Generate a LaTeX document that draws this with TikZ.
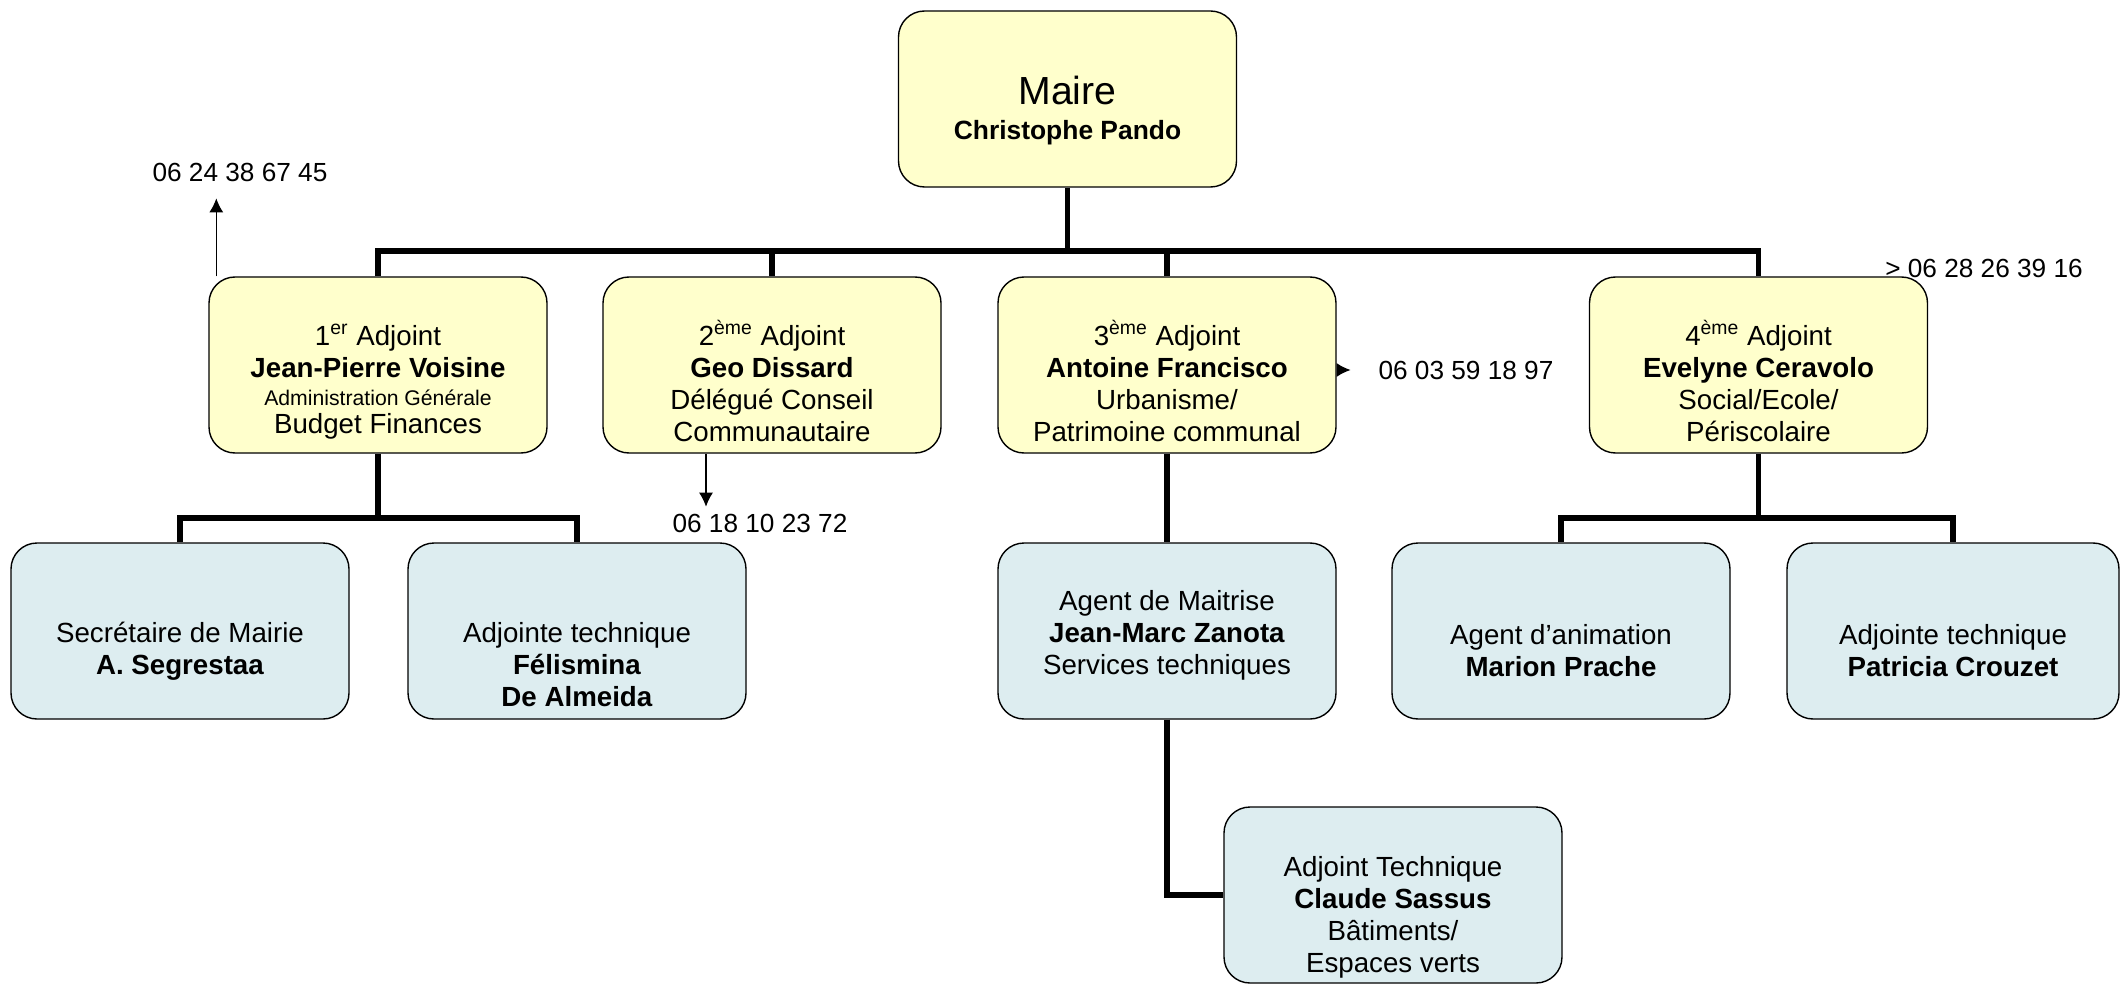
\documentclass[tikz,border=0pt]{standalone}
\usepackage{fontspec}
\setmainfont{Liberation Sans}
\usepackage{tikz}
\usetikzlibrary{arrows.meta}
\definecolor{paleyellow}{RGB}{255,255,204}
\definecolor{paleblue}{RGB}{221,237,240}
\newcommand{\lift}[1]{\rule{0pt}{#1}}

\begin{document}
\begin{tikzpicture}[x=0.5pt, y=-0.5pt, every node/.style={font=\fontsize{13.85}{16}\selectfont}]
\tikzset{box/.style = {shape=rectangle, draw, line width=0.7pt, rounded corners=13pt, minimum width=169pt, minimum height=88pt, inner sep=0pt, align=center}}
\tikzset{elu/.style = {box, fill=paleyellow}}
\tikzset{agent/.style = {box, fill=paleblue}}
\tikzset{link/.style = {line width=2.6pt}}
\tikzset{call/.style = {-{Latex[length=7pt,width=7pt]}, line width=0.6pt}}
\tikzset{tel/.style = {font=\fontsize{13.1}{16}\selectfont}}
\useasboundingbox (0,0) rectangle (2120,984);

% vertices
\node[elu] (maire) at (1067.5,99) {{\lift{26pt}\fontsize{19.6}{22}\selectfont Maire}\\[1.5pt] {\fontsize{13.2}{16}\selectfont\bfseries Christophe Pando}};
\node[elu] (b1) at (378,365) {{\lift{27pt}1\textsuperscript{er} Adjoint}\\ \textbf{Jean-Pierre Voisine}\\[-2pt] {\fontsize{10.6}{12}\selectfont Administration Générale}\\[-2pt] Budget Finances};
\node[elu] (b2) at (772,365) {{\lift{28.5pt}2\textsuperscript{ème} Adjoint}\\ \textbf{Geo Dissard}\\ Délégué Conseil\\ Communautaire};
\node[elu] (b3) at (1167,365) {{\lift{28.5pt}3\textsuperscript{ème} Adjoint}\\ \textbf{Antoine Francisco}\\ Urbanisme/\\ Patrimoine communal};
\node[elu] (b4) at (1758.5,365) {{\lift{28.5pt}4\textsuperscript{ème} Adjoint}\\ \textbf{Evelyne Ceravolo}\\ Social/Ecole/\\ Périscolaire};
\node[agent] (c1) at (180,631) {{\lift{30pt}Secrétaire de Mairie}\\ \textbf{A. Segrestaa}};
\node[agent] (c2) at (577,631) {{\lift{44pt}Adjointe technique}\\ \textbf{Félismina}\\ \textbf{De Almeida}};
\node[agent] (c3) at (1167,631) {{\lift{14pt}Agent de Maitrise}\\ \textbf{Jean-Marc Zanota}\\ Services techniques};
\node[agent] (c4) at (1561,631) {{\lift{30pt}Agent d’animation}\\ \textbf{Marion Prache}};
\node[agent, minimum width=166pt] (c5) at (1953,631) {{\lift{30pt}Adjointe technique}\\ \textbf{Patricia Crouzet}};
\node[agent] (c6) at (1393,895) {{\lift{32pt}Adjoint Technique}\\ \textbf{Claude Sassus}\\ Bâtiments/\\ Espaces verts};

% phone numbers
\node[tel] (t1) at (240,172) {06 24 38 67 45};
\node[tel] (t2) at (760,523) {06 18 10 23 72};
\node[tel] (t3) at (1466,370) {06 03 59 18 97};
\node[tel] (t4) at (1984,268) {> 06 28 26 39 16};

% junctions
\coordinate (bus) at (1067.5,251);
\coordinate (j1) at (378,518);
\coordinate (j4) at (1758.5,518);
\coordinate (a1) at ([xshift=4pt]b1.north west);
\coordinate (a2) at ([xshift=-33pt]b2.south);
\coordinate (a3) at ([yshift=-2.5pt]b3.east);

%edges
\draw[link] (maire) -- (bus);
\draw[link] (b1.north) |- (bus) -| (b4.north);
\draw[link] (b2.north) -- (b2.north |- bus);
\draw[link] (b3.north) -- (b3.north |- bus);
\draw[link] (b1) -- (j1);
\draw[link] (c1.north) |- (j1) -| (c2.north);
\draw[link] (b3) -- (c3);
\draw[link] (b4) -- (j4);
\draw[link] (c4.north) |- (j4) -| (c5.north);
\draw[link] (c3) |- (c6);

\draw[call, shorten >=5pt] (a1) -- (a1 |- t1.south);
\draw[call] (a2) -- (a2 |- t2.north);
\draw[call, shorten >=10.5pt] (a3) -- (t3.west);

\end{tikzpicture}
\end{document}
